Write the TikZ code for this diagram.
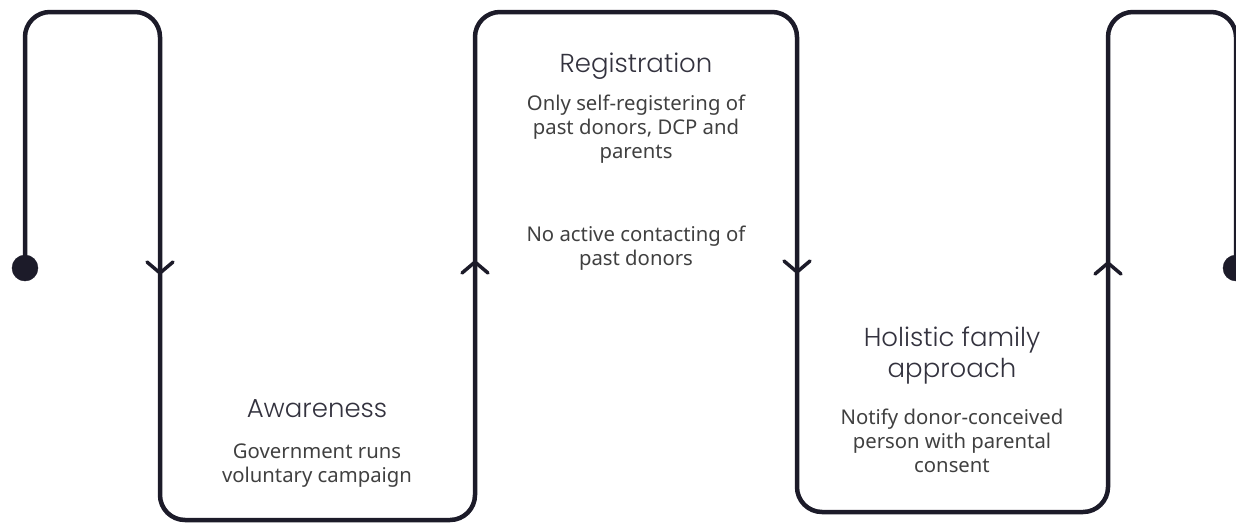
\documentclass[tikz,border=0pt]{standalone}
\usepackage{fontspec}
\setmainfont{Noto Sans}
\newfontfamily\headfont{Poppins Light}
\definecolor{ink}{HTML}{1C1B29}
\definecolor{bodygray}{HTML}{404040}
\begin{document}
\begin{tikzpicture}[x=1pt, y=-1pt,
    flow/.style={ink, line width=4.5pt, rounded corners=25pt},
    chev/.style={ink, line width=3.5pt, line cap=round},
    head/.style={font=\headfont\fontsize{26}{31}\selectfont, text=ink!90, align=center},
    body/.style={font=\fontsize{20.3}{23.8}\selectfont, text=bodygray, align=center}]
  \useasboundingbox (0,0) rectangle (1236,523);
  % the winding line
  \coordinate (start) at (25,268);
  \coordinate (stop) at (1236,268);
  \draw[flow] (start) -- (25,12) -- (160,12) -- (160,520) -- (475,520) -- (475,12)
    -- (797,12) -- (797,512) -- (1108,512) -- (1108,12) -- (1236,12) -- (stop);
  \filldraw[ink] (start) circle (13pt);
  \filldraw[ink] (stop) circle (13pt);
  % direction marks
  \coordinate (down1) at (160,273);
  \coordinate (up1) at (475,262);
  \coordinate (down2) at (797,272);
  \coordinate (up2) at (1108,263);
  \draw[chev] (down1) ++(-13,-11) -- (down1) -- ++(13,-11);
  \draw[chev] (down2) ++(-13,-11) -- (down2) -- ++(13,-11);
  \draw[chev] (up1) ++(-13,11) -- (up1) -- ++(13,11);
  \draw[chev] (up2) ++(-13,11) -- (up2) -- ++(13,11);
  % texts
  \node[head] (aware) at (317,409) {Awareness};
  \node[body] (awaretxt) at (317,465.5) {Government runs\\voluntary campaign};
  \node[head] (regist) at (636,66) {Registration};
  \node[body] (registtxt) at (636,129) {Only self-registering of\\past donors, DCP and\\parents};
  \node[body] (contact) at (636,248.5) {No active contacting of\\past donors};
  \node[head] (holist) at (952,356) {Holistic family\\approach};
  \node[body] (holisttxt) at (952,441) {Notify donor-conceived\\person with parental\\consent};
\end{tikzpicture}
\end{document}
